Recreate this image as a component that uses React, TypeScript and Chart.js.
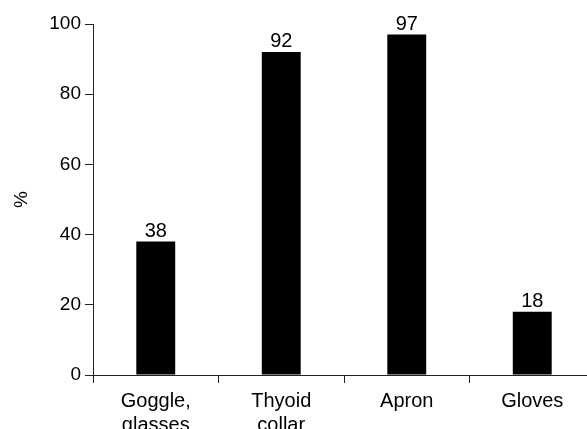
import React, { useEffect, useRef } from "react";
import { Chart, registerables } from "chart.js";

Chart.register(...registerables);

const categories: (string | string[])[] = [["Goggle,", "glasses"], ["Thyoid", "collar"], "Apron", "Gloves"];
const values: number[] = [38, 92, 97, 18];
const valueLabels: string[] = ["38", "92", "97", "18"];
const yTicks: number[] = [0, 20, 40, 60, 80, 100];

const FONT = "'Liberation Sans', Arial, sans-serif";
const FS = 19;
const XFS = 20;

const valueLabelPlugin = {
  id: "valueLabels",
  afterDatasetsDraw(chart: any) {
    const ctx = chart.ctx;
    const meta = chart.getDatasetMeta(0);
    ctx.save();
    ctx.font = `${XFS}px ${FONT}`;
    ctx.fillStyle = "#000";
    ctx.textAlign = "center";
    ctx.textBaseline = "alphabetic";
    meta.data.forEach((bar: any, i: number) => {
      ctx.fillText(valueLabels[i], bar.x, bar.y - 5);
    });
    ctx.restore();
  },
};

export default function App() {
  const ref = useRef<HTMLCanvasElement>(null);
  useEffect(() => {
    if (!ref.current) return;
    const chart = new Chart(ref.current, {
      type: "bar",
      data: {
        labels: categories,
        datasets: [
          {
            data: values,
            backgroundColor: "#000",
            borderWidth: 0,
            barPercentage: 0.31,
            categoryPercentage: 1,
          },
        ],
      },
      options: {
        animation: false,
        responsive: false,
        layout: { padding: { left: 0, top: 24, right: 5, bottom: 0 } },
        plugins: { legend: { display: false }, tooltip: { enabled: false } },
        scales: {
          x: {
            grid: {
              display: true,
              offset: true,
              drawOnChartArea: false,
              drawTicks: true,
              tickLength: 8,
              color: "#222",
              lineWidth: 1,
            },
            border: { display: true, color: "#222", width: 1 },
            ticks: {
              color: "#000",
              font: { family: FONT, size: XFS, lineHeight: 1.2 },
              padding: 6,
              maxRotation: 0,
              autoSkip: false,
            },
            afterFit(scale: any) {
              scale.height = 54;
            },
          },
          y: {
            min: 0,
            max: 100,
            afterBuildTicks(scale: any) {
              scale.ticks = yTicks.map((v) => ({ value: v }));
            },
            grid: {
              display: true,
              drawOnChartArea: false,
              drawTicks: true,
              tickLength: 8,
              color: "#222",
              lineWidth: 1,
            },
            border: { display: true, color: "#222", width: 1 },
            ticks: {
              color: "#000",
              font: { family: FONT, size: FS },
              padding: 4,
            },
            title: {
              display: true,
              text: "%",
              color: "#000",
              font: { family: FONT, size: FS },
              padding: { top: 10, bottom: 0 },
            },
            afterFit(scale: any) {
              scale.width = 93;
            },
          },
        },
      },
      plugins: [valueLabelPlugin],
    });
    return () => chart.destroy();
  }, []);
  return (
    <div
      style={{
        position: "fixed",
        left: 0,
        top: 0,
        width: 587,
        height: 429,
        overflow: "hidden",
        background: "#fff",
      }}
    >
      <canvas ref={ref} width={600} height={429} style={{ display: "block", width: 600, height: 429 }} />
    </div>
  );
}
